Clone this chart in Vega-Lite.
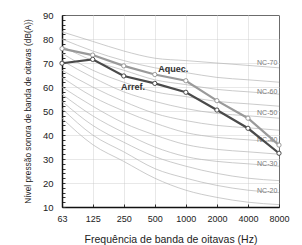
{
  "$schema": "https://vega.github.io/schema/vega-lite/v6.json",
  "width": 217,
  "height": 192,
  "autosize": {"type": "none"},
  "padding": {"left": 62, "top": 15, "right": 23, "bottom": 38},
  "background": "white",
  "config": {
    "font": "Liberation Sans",
    "view": {"stroke": "#333333", "strokeWidth": 1}
  },
  "datasets": {
    "nc": [
      {"curve": "NC-15", "freq": 63, "db": 47}, {"curve": "NC-15", "freq": 125, "db": 36}, {"curve": "NC-15", "freq": 250, "db": 29}, {"curve": "NC-15", "freq": 500, "db": 22}, {"curve": "NC-15", "freq": 1000, "db": 17}, {"curve": "NC-15", "freq": 2000, "db": 14}, {"curve": "NC-15", "freq": 4000, "db": 12}, {"curve": "NC-15", "freq": 8000, "db": 11},
      {"curve": "NC-20", "freq": 63, "db": 51}, {"curve": "NC-20", "freq": 125, "db": 40}, {"curve": "NC-20", "freq": 250, "db": 33}, {"curve": "NC-20", "freq": 500, "db": 26}, {"curve": "NC-20", "freq": 1000, "db": 22}, {"curve": "NC-20", "freq": 2000, "db": 19}, {"curve": "NC-20", "freq": 4000, "db": 17}, {"curve": "NC-20", "freq": 8000, "db": 16},
      {"curve": "NC-25", "freq": 63, "db": 54}, {"curve": "NC-25", "freq": 125, "db": 44}, {"curve": "NC-25", "freq": 250, "db": 37}, {"curve": "NC-25", "freq": 500, "db": 31}, {"curve": "NC-25", "freq": 1000, "db": 27}, {"curve": "NC-25", "freq": 2000, "db": 24}, {"curve": "NC-25", "freq": 4000, "db": 22}, {"curve": "NC-25", "freq": 8000, "db": 21},
      {"curve": "NC-30", "freq": 63, "db": 57}, {"curve": "NC-30", "freq": 125, "db": 48}, {"curve": "NC-30", "freq": 250, "db": 41}, {"curve": "NC-30", "freq": 500, "db": 35}, {"curve": "NC-30", "freq": 1000, "db": 31}, {"curve": "NC-30", "freq": 2000, "db": 29}, {"curve": "NC-30", "freq": 4000, "db": 28}, {"curve": "NC-30", "freq": 8000, "db": 27},
      {"curve": "NC-35", "freq": 63, "db": 60}, {"curve": "NC-35", "freq": 125, "db": 52}, {"curve": "NC-35", "freq": 250, "db": 45}, {"curve": "NC-35", "freq": 500, "db": 40}, {"curve": "NC-35", "freq": 1000, "db": 36}, {"curve": "NC-35", "freq": 2000, "db": 34}, {"curve": "NC-35", "freq": 4000, "db": 33}, {"curve": "NC-35", "freq": 8000, "db": 32},
      {"curve": "NC-40", "freq": 63, "db": 64}, {"curve": "NC-40", "freq": 125, "db": 56}, {"curve": "NC-40", "freq": 250, "db": 50}, {"curve": "NC-40", "freq": 500, "db": 45}, {"curve": "NC-40", "freq": 1000, "db": 41}, {"curve": "NC-40", "freq": 2000, "db": 39}, {"curve": "NC-40", "freq": 4000, "db": 38}, {"curve": "NC-40", "freq": 8000, "db": 37},
      {"curve": "NC-45", "freq": 63, "db": 67}, {"curve": "NC-45", "freq": 125, "db": 60}, {"curve": "NC-45", "freq": 250, "db": 54}, {"curve": "NC-45", "freq": 500, "db": 49}, {"curve": "NC-45", "freq": 1000, "db": 46}, {"curve": "NC-45", "freq": 2000, "db": 44}, {"curve": "NC-45", "freq": 4000, "db": 43}, {"curve": "NC-45", "freq": 8000, "db": 42},
      {"curve": "NC-50", "freq": 63, "db": 71}, {"curve": "NC-50", "freq": 125, "db": 64}, {"curve": "NC-50", "freq": 250, "db": 58}, {"curve": "NC-50", "freq": 500, "db": 54}, {"curve": "NC-50", "freq": 1000, "db": 51}, {"curve": "NC-50", "freq": 2000, "db": 49}, {"curve": "NC-50", "freq": 4000, "db": 48}, {"curve": "NC-50", "freq": 8000, "db": 47},
      {"curve": "NC-55", "freq": 63, "db": 74}, {"curve": "NC-55", "freq": 125, "db": 67}, {"curve": "NC-55", "freq": 250, "db": 62}, {"curve": "NC-55", "freq": 500, "db": 58}, {"curve": "NC-55", "freq": 1000, "db": 56}, {"curve": "NC-55", "freq": 2000, "db": 54}, {"curve": "NC-55", "freq": 4000, "db": 53}, {"curve": "NC-55", "freq": 8000, "db": 52},
      {"curve": "NC-60", "freq": 63, "db": 77}, {"curve": "NC-60", "freq": 125, "db": 71}, {"curve": "NC-60", "freq": 250, "db": 67}, {"curve": "NC-60", "freq": 500, "db": 63}, {"curve": "NC-60", "freq": 1000, "db": 61}, {"curve": "NC-60", "freq": 2000, "db": 59}, {"curve": "NC-60", "freq": 4000, "db": 58}, {"curve": "NC-60", "freq": 8000, "db": 57},
      {"curve": "NC-65", "freq": 63, "db": 80}, {"curve": "NC-65", "freq": 125, "db": 75}, {"curve": "NC-65", "freq": 250, "db": 71}, {"curve": "NC-65", "freq": 500, "db": 68}, {"curve": "NC-65", "freq": 1000, "db": 66}, {"curve": "NC-65", "freq": 2000, "db": 64}, {"curve": "NC-65", "freq": 4000, "db": 63}, {"curve": "NC-65", "freq": 8000, "db": 62},
      {"curve": "NC-70", "freq": 63, "db": 83}, {"curve": "NC-70", "freq": 125, "db": 79}, {"curve": "NC-70", "freq": 250, "db": 75}, {"curve": "NC-70", "freq": 500, "db": 72}, {"curve": "NC-70", "freq": 1000, "db": 71}, {"curve": "NC-70", "freq": 2000, "db": 70}, {"curve": "NC-70", "freq": 4000, "db": 69}, {"curve": "NC-70", "freq": 8000, "db": 68}
    ],
    "series": [
      {"s": "Aquec.", "freq": 63, "db": 76}, {"s": "Aquec.", "freq": 125, "db": 73.3}, {"s": "Aquec.", "freq": 250, "db": 68.8}, {"s": "Aquec.", "freq": 500, "db": 65.2}, {"s": "Aquec.", "freq": 1000, "db": 62.6}, {"s": "Aquec.", "freq": 2000, "db": 54.3}, {"s": "Aquec.", "freq": 4000, "db": 47}, {"s": "Aquec.", "freq": 8000, "db": 35.8},
      {"s": "Arref.", "freq": 63, "db": 69.9}, {"s": "Arref.", "freq": 125, "db": 71.5}, {"s": "Arref.", "freq": 250, "db": 64.6}, {"s": "Arref.", "freq": 500, "db": 61.5}, {"s": "Arref.", "freq": 1000, "db": 57.8}, {"s": "Arref.", "freq": 2000, "db": 50.4}, {"s": "Arref.", "freq": 4000, "db": 42.8}, {"s": "Arref.", "freq": 8000, "db": 32.4}
    ],
    "nclabels": [
      {"t": "NC-70", "freq": 7700, "db": 70},
      {"t": "NC-60", "freq": 7700, "db": 58},
      {"t": "NC-50", "freq": 7700, "db": 49},
      {"t": "NC-40", "freq": 7700, "db": 38},
      {"t": "NC-30", "freq": 7700, "db": 28},
      {"t": "NC-20", "freq": 7700, "db": 16.5}
    ],
    "ann": [
      {"t": "Aquec.", "freq": 753, "db": 67.7},
      {"t": "Arref.", "freq": 308, "db": 60}
    ]
  },
  "encoding": {
    "x": {
      "field": "freq", "type": "quantitative",
      "scale": {"type": "log", "base": 2, "domain": [63, 8000], "nice": false},
      "axis": {
        "title": "Frequência de banda de oitavas (Hz)",
        "values": [63, 125, 250, 500, 1000, 2000, 4000, 8000],
        "format": "d",
        "labelFontSize": 9, "labelColor": "#222222", "labelPadding": 10,
        "labelFlush": false, "labelOverlap": false,
        "tickSize": -3, "tickColor": "#333333",
        "domainColor": "#111111", "domainWidth": 1.5,
        "grid": true, "gridColor": "#c4c4c4", "gridDash": [1, 1], "gridWidth": 0.8,
        "titleFontSize": 10.5, "titleFontWeight": "normal", "titleColor": "#222222", "titlePadding": 11
      }
    },
    "y": {
      "field": "db", "type": "quantitative",
      "scale": {"domain": [10, 90], "nice": false},
      "axis": {
        "title": "Nível pressão sonora de banda de oitavas (dB(A))",
        "values": [10, 12, 14, 16, 18, 20, 22, 24, 26, 28, 30, 32, 34, 36, 38, 40, 42, 44, 46, 48, 50, 52, 54, 56, 58, 60, 62, 64, 66, 68, 70, 72, 74, 76, 78, 80, 82, 84, 86, 88, 90],
        "labelExpr": "datum.value % 10 === 0 ? datum.label : ''",
        "labelFontSize": 9.5, "labelColor": "#222222", "labelPadding": 12,
        "tickSize": -3, "tickColor": "#333333",
        "domainColor": "#111111", "domainWidth": 1.5,
        "grid": true, "gridColor": "#c4c4c4", "gridDash": [1, 1], "gridWidth": 0.8,
        "gridOpacity": {"condition": {"test": "datum.value % 10 === 0", "value": 1}, "value": 0},
        "titleFontSize": 8.3, "titleFontWeight": "normal", "titleColor": "#222222", "titlePadding": 10
      }
    }
  },
  "layer": [
    {
      "data": {"name": "nc"},
      "mark": {"type": "line", "color": "#b4b4b4", "strokeWidth": 0.7, "interpolate": "monotone"},
      "encoding": {"detail": {"field": "curve"}}
    },
    {
      "data": {"name": "nclabels"},
      "mark": {"type": "text", "align": "right", "baseline": "middle", "fontSize": 7, "color": "#7a7a7a"},
      "encoding": {"text": {"field": "t"}}
    },
    {
      "data": {"name": "series"},
      "mark": {"type": "line", "strokeWidth": 2.2},
      "encoding": {
        "detail": {"field": "s"},
        "color": {"field": "s", "type": "nominal", "scale": {"domain": ["Aquec.", "Arref."], "range": ["#9a9a9a", "#4a4a4a"]}, "legend": null}
      }
    },
    {
      "data": {"name": "series"},
      "mark": {"type": "point", "filled": true, "fill": "white", "size": 18, "strokeWidth": 1, "opacity": 1},
      "encoding": {
        "stroke": {"field": "s", "type": "nominal", "scale": {"domain": ["Aquec.", "Arref."], "range": ["#9a9a9a", "#4a4a4a"]}, "legend": null}
      }
    },
    {
      "data": {"name": "ann"},
      "mark": {"type": "text", "align": "center", "baseline": "middle", "fontSize": 9, "fontWeight": "bold", "color": "#333333"},
      "encoding": {"text": {"field": "t"}}
    }
  ]
}
